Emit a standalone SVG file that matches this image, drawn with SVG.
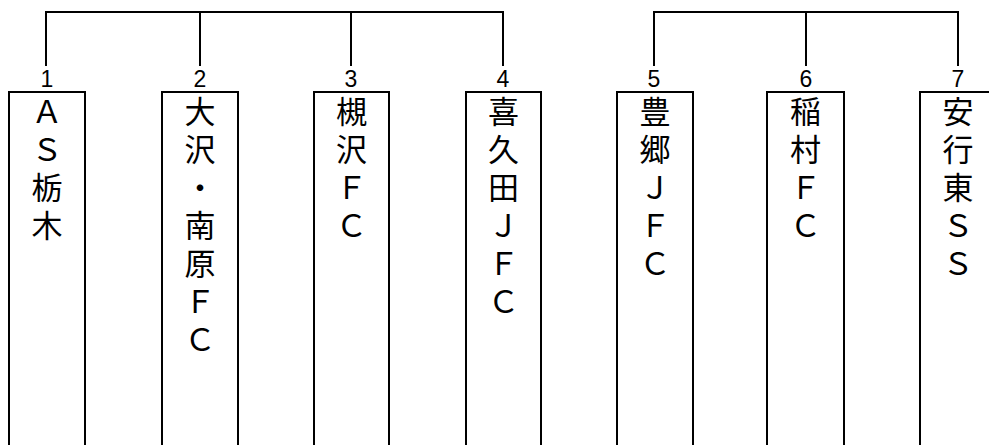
<svg xmlns="http://www.w3.org/2000/svg" width="989" height="445" viewBox="0 0 989 445">
<style>
.ln{fill:none;stroke:#000;stroke-width:2;}
.box{fill:#fff;stroke:#000;stroke-width:2;}
.num{font-family:"Liberation Sans",Arial,sans-serif;font-size:23px;fill:#000;text-anchor:middle;}
.lbl{font-family:"Noto Sans CJK JP","Noto Sans CJK SC",sans-serif;font-size:31px;fill:#000;text-anchor:middle;}
</style>
<rect width="989" height="445" fill="#fff"/>
<g id="connectors">
<path class="ln" d="M46,66 V12 H503 V66 M200,12 V66 M351,12 V66"/>
<path class="ln" d="M654,66 V12 H958 V66 M806,12 V66"/>
</g>
<g id="node1">
<path class="box" d="M9,446 V92 H85 V446"/>
<text class="num" x="47" y="87">1</text>
<text class="lbl"><tspan x="47" y="123">Ａ</tspan><tspan x="47" dy="38">Ｓ</tspan><tspan x="47" dy="38">栃</tspan><tspan x="47" dy="38">木</tspan></text>
</g>
<g id="node2">
<path class="box" d="M162,446 V92 H238 V446"/>
<text class="num" x="200" y="87">2</text>
<text class="lbl"><tspan x="200" y="123">大</tspan><tspan x="200" dy="38">沢</tspan><tspan x="200" dy="38">・</tspan><tspan x="200" dy="38">南</tspan><tspan x="200" dy="38">原</tspan><tspan x="200" dy="38">Ｆ</tspan><tspan x="200" dy="38">Ｃ</tspan></text>
</g>
<g id="node3">
<path class="box" d="M314,446 V92 H389 V446"/>
<text class="num" x="351" y="87">3</text>
<text class="lbl"><tspan x="351.5" y="123">槻</tspan><tspan x="351.5" dy="38">沢</tspan><tspan x="351.5" dy="38">Ｆ</tspan><tspan x="351.5" dy="38">Ｃ</tspan></text>
</g>
<g id="node4">
<path class="box" d="M466,446 V92 H541 V446"/>
<text class="num" x="503" y="87">4</text>
<text class="lbl"><tspan x="503.5" y="123">喜</tspan><tspan x="503.5" dy="38">久</tspan><tspan x="503.5" dy="38">田</tspan><tspan x="503.5" dy="38">Ｊ</tspan><tspan x="503.5" dy="38">Ｆ</tspan><tspan x="503.5" dy="38">Ｃ</tspan></text>
</g>
<g id="node5">
<path class="box" d="M617,446 V92 H693 V446"/>
<text class="num" x="654" y="87">5</text>
<text class="lbl"><tspan x="655" y="123">豊</tspan><tspan x="655" dy="38">郷</tspan><tspan x="655" dy="38">Ｊ</tspan><tspan x="655" dy="38">Ｆ</tspan><tspan x="655" dy="38">Ｃ</tspan></text>
</g>
<g id="node6">
<path class="box" d="M767,446 V92 H844 V446"/>
<text class="num" x="806" y="87">6</text>
<text class="lbl"><tspan x="805.5" y="123">稲</tspan><tspan x="805.5" dy="38">村</tspan><tspan x="805.5" dy="38">Ｆ</tspan><tspan x="805.5" dy="38">Ｃ</tspan></text>
</g>
<g id="node7">
<path class="box" d="M920,446 V92 H996 V446"/>
<text class="num" x="958" y="87">7</text>
<text class="lbl"><tspan x="958" y="123">安</tspan><tspan x="958" dy="38">行</tspan><tspan x="958" dy="38">東</tspan><tspan x="958" dy="38">Ｓ</tspan><tspan x="958" dy="38">Ｓ</tspan></text>
</g>
</svg>
